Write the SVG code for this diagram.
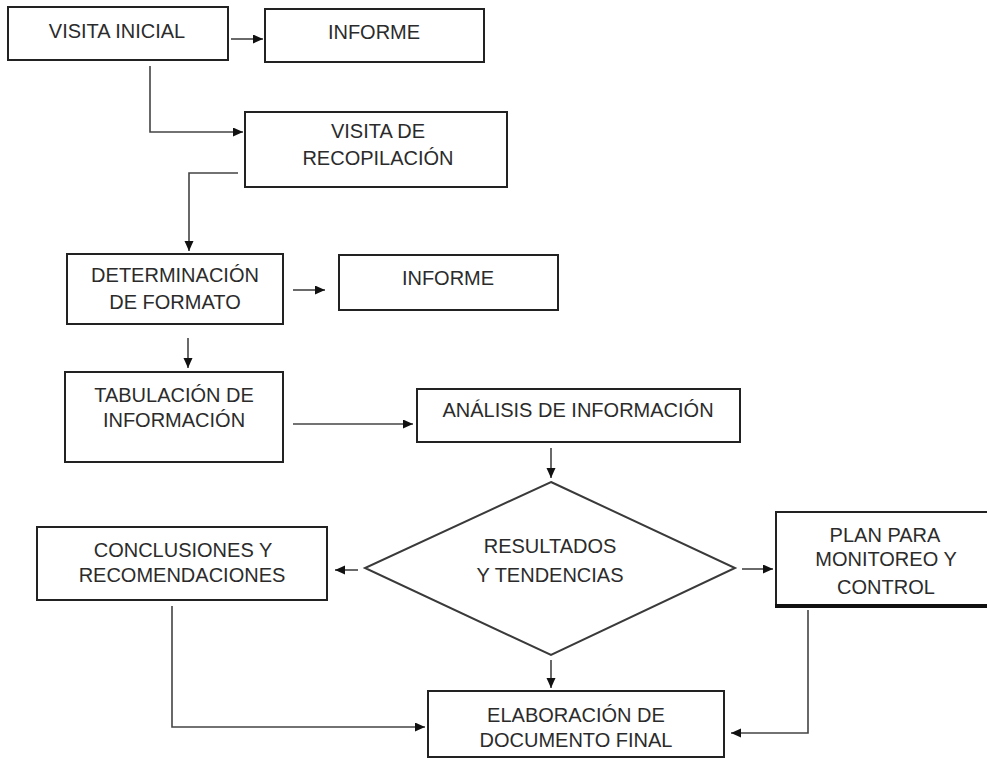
<svg xmlns="http://www.w3.org/2000/svg" width="987" height="759" viewBox="0 0 987 759">
<style>
.box{fill:#fff;stroke:#222;stroke-width:2}
.dia{fill:#fff;stroke:#3a3a3a;stroke-width:2}
.t{font-family:"Liberation Sans",Arial,sans-serif;font-size:20px;fill:#2b2b2b;text-anchor:middle}
.c{fill:none;stroke:#444;stroke-width:1.6;marker-end:url(#ah)}
</style>
<defs>
<marker id="ah" markerUnits="userSpaceOnUse" markerWidth="11" markerHeight="10" refX="10" refY="4.5" orient="auto">
<path d="M0,0 L10,4.5 L0,9 z" fill="#111"/>
</marker>
</defs>
<rect width="987" height="759" fill="#fff"/>
<g id="connectors">
<path class="c" d="M231,39 H263"/>
<path class="c" d="M150,66 V132 H243"/>
<path class="c" d="M238,173 H189 V251"/>
<path class="c" d="M293,290 H325"/>
<path class="c" d="M188,338 V368"/>
<path class="c" d="M293,424 H413"/>
<path class="c" d="M551,448 V478"/>
<path class="c" d="M358,570 H335"/>
<path class="c" d="M742,569 H773"/>
<path class="c" d="M551,660 V688"/>
<path class="c" d="M172,606 V727 H425"/>
<path class="c" d="M808,610 V733 H731"/>
</g>
<g id="visita-inicial">
<rect class="box" x="8" y="7" width="220" height="53"/>
<text class="t" x="117" y="38">VISITA INICIAL</text>
</g>
<g id="informe-1">
<rect class="box" x="265" y="9" width="219" height="53"/>
<text class="t" x="374" y="39">INFORME</text>
</g>
<g id="visita-recopilacion">
<rect class="box" x="245" y="112" width="262" height="75"/>
<text class="t" x="378" y="138">VISITA DE</text>
<text class="t" x="378" y="165">RECOPILACIÓN</text>
</g>
<g id="determinacion">
<rect class="box" x="67" y="254" width="216" height="70"/>
<text class="t" x="175" y="282">DETERMINACIÓN</text>
<text class="t" x="175" y="309">DE FORMATO</text>
</g>
<g id="informe-2">
<rect class="box" x="339" y="255" width="219" height="55"/>
<text class="t" x="448" y="285">INFORME</text>
</g>
<g id="tabulacion">
<rect class="box" x="65" y="372" width="218" height="90"/>
<text class="t" x="174" y="402">TABULACIÓN DE</text>
<text class="t" x="174" y="427">INFORMACIÓN</text>
</g>
<g id="analisis">
<rect class="box" x="417" y="389" width="323" height="53"/>
<text class="t" x="578" y="417">ANÁLISIS DE INFORMACIÓN</text>
</g>
<g id="resultados">
<polygon class="dia" points="551,482 735,568 551,655 365,568"/>
<text class="t" x="550" y="553">RESULTADOS</text>
<text class="t" x="550" y="582">Y TENDENCIAS</text>
</g>
<g id="conclusiones">
<rect class="box" x="37" y="527" width="290" height="73"/>
<text class="t" x="183" y="557">CONCLUSIONES Y</text>
<text class="t" x="182" y="582">RECOMENDACIONES</text>
</g>
<g id="plan">
<rect class="box" x="776" y="512" width="214" height="94"/>
<line x1="775" y1="606" x2="990" y2="606" stroke="#111" stroke-width="4"/>
<text class="t" x="885" y="542">PLAN PARA</text>
<text class="t" x="886" y="566">MONITOREO Y</text>
<text class="t" x="886" y="594">CONTROL</text>
</g>
<g id="elaboracion">
<rect class="box" x="428" y="691" width="296" height="66"/>
<text class="t" x="576" y="722">ELABORACIÓN DE</text>
<text class="t" x="576" y="747">DOCUMENTO FINAL</text>
</g>
</svg>
